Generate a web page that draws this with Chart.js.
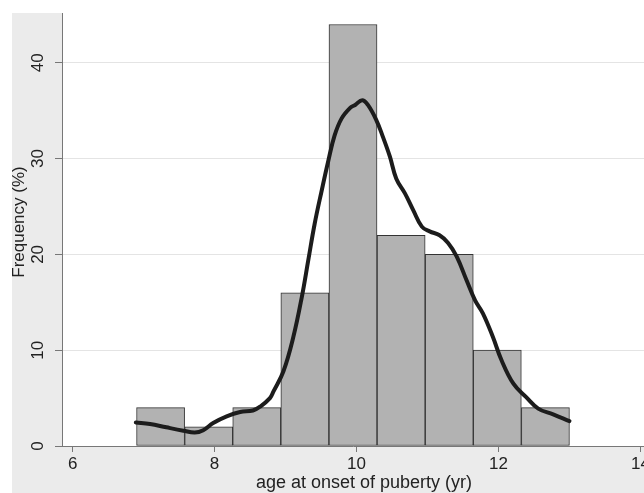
<!DOCTYPE html>
<html>
<head>
<meta charset="utf-8">
<script src="https://cdn.jsdelivr.net/npm/chart.js@4"></script>
<style>
  body { margin: 0; background: #fff; }
  #wrap { width: 644px; height: 493px; position: relative; }
</style>
</head>
<body>
<div id="wrap"><canvas id="hist"></canvas></div>
<script>
// histogram bins (midpoints) and heights
const binMid = [7.239, 7.917, 8.594, 9.272, 9.950, 10.628, 11.306, 11.983, 12.661];
const freq = [4, 2, 4, 16, 44, 22, 20, 10, 4];

// kernel density curve
const kdeAge = [6.89, 7.09, 7.32, 7.56, 7.72, 7.84, 7.98, 8.17, 8.36, 8.54, 8.64, 8.78, 8.83, 8.97,
  9.11, 9.23, 9.32, 9.41, 9.51, 9.60, 9.69, 9.79, 9.91, 9.98, 10.08, 10.16, 10.28, 10.37, 10.47,
  10.56, 10.68, 10.80, 10.92, 11.03, 11.17, 11.29, 11.41, 11.55, 11.67, 11.78, 11.92, 12.04,
  12.21, 12.39, 12.56, 12.77, 13.0];
const kdePct = [2.45, 2.3, 1.95, 1.6, 1.4, 1.65, 2.4, 3.1, 3.55, 3.7, 4.1, 5.0, 5.7, 7.8,
  11.4, 15.6, 19.4, 23.2, 26.7, 29.7, 32.4, 34.2, 35.3, 35.6, 36.1, 35.6, 34.0, 32.3, 30.2,
  27.9, 26.4, 24.6, 22.9, 22.4, 22.0, 21.2, 19.8, 17.3, 15.2, 13.85, 11.4, 9.0,
  6.5, 5.1, 3.9, 3.3, 2.6];

const xTicks = [6, 8, 10, 12, 14];
const yTicks = [0, 10, 20, 30, 40];
const xTitle = "age at onset of puberty (yr)";
const yTitle = "Frequency (%)";

const FONT = "'Liberation Sans', Arial, sans-serif";

const frame = {
  id: "frame",
  beforeDraw(chart) {
    const c = chart.ctx;
    const a = chart.chartArea;
    c.save();
    c.fillStyle = "#ebebeb";
    c.fillRect(12, 13, chart.width - 12, chart.height - 13);
    c.fillStyle = "#ffffff";
    c.fillRect(a.left, 0, a.right - a.left, a.bottom);
    c.restore();
  },
  afterDraw(chart) {
    const c = chart.ctx;
    const ys = chart.scales.y;
    c.save();
    c.fillStyle = "#222";
    c.font = "17px " + FONT;
    c.textAlign = "center";
    c.textBaseline = "middle";
    // rotated y tick labels
    ys.ticks.forEach(function (t) {
      c.save();
      c.translate(38, ys.getPixelForValue(t.value));
      c.rotate(-Math.PI / 2);
      c.fillText(String(t.value), 0, 0);
      c.restore();
    });
    // axis titles
    c.save();
    c.translate(19, 222);
    c.rotate(-Math.PI / 2);
    c.font = "17px " + FONT;
    c.fillText(yTitle, 0, 0);
    c.restore();
    c.font = "18px " + FONT;
    c.fillText(xTitle, 364, 483);
    c.restore();
  }
};

const barData = binMid.map(function (m, i) { return { x: m, y: freq[i] }; });
const lineData = kdeAge.map(function (a, i) { return { x: a, y: kdePct[i] }; });

var ctx = document.getElementById("hist");
var myChart = new Chart(ctx, {
  type: "bar",
  data: {
    datasets: [
      {
        type: "line",
        data: lineData,
        borderColor: "#1c1c1c",
        borderWidth: 4,
        tension: 0.4,
        pointRadius: 0,
        borderCapStyle: "round",
        borderJoinStyle: "round",
        fill: false,
        order: 0,
      },
      {
        type: "bar",
        data: barData,
        backgroundColor: "#b2b2b2",
        borderColor: "#333333",
        borderWidth: 1,
        borderSkipped: false,
        categoryPercentage: 1,
        barPercentage: 1,
        order: 1,
      },
    ],
  },
  options: {
    responsive: true,
    maintainAspectRatio: false,
    animation: false,
    layout: { padding: { left: 0, top: 13, right: 0, bottom: 0 } },
    plugins: { legend: { display: false }, tooltip: { enabled: false } },
    scales: {
      x: {
        type: "linear",
        min: 5.85,
        max: 14.05,
        offset: false,
        ticks: {
          stepSize: 2,
          includeBounds: false,
          autoSkip: false,
          maxRotation: 0,
          padding: 2,
          color: "#222",
          font: { family: FONT, size: 17 },
        },
        afterBuildTicks: function (s) {
          s.ticks = xTicks.map(function (v) { return { value: v }; });
        },
        grid: {
          offset: false,
          drawOnChartArea: false,
          tickLength: 6,
          tickColor: "#777",
        },
        border: { color: "#777", width: 1 },
        afterFit: function (s) {
          s.height = 47;
          s.paddingLeft = 0;
          s.paddingRight = 0;
        },
      },
      y: {
        min: 0,
        max: 45.2,
        ticks: { display: false, stepSize: 10, includeBounds: false },
        afterBuildTicks: function (s) {
          s.ticks = yTicks.map(function (v) { return { value: v }; });
        },
        grid: {
          color: "#e4e4e4",
          lineWidth: 1,
          tickLength: 7,
          tickColor: "#777",
        },
        border: { color: "#777", width: 1 },
        afterFit: function (s) {
          s.width = 62;
          s.paddingTop = 0;
          s.paddingBottom = 0;
        },
      },
    },
  },
  plugins: [frame],
});
</script>
</body>
</html>
